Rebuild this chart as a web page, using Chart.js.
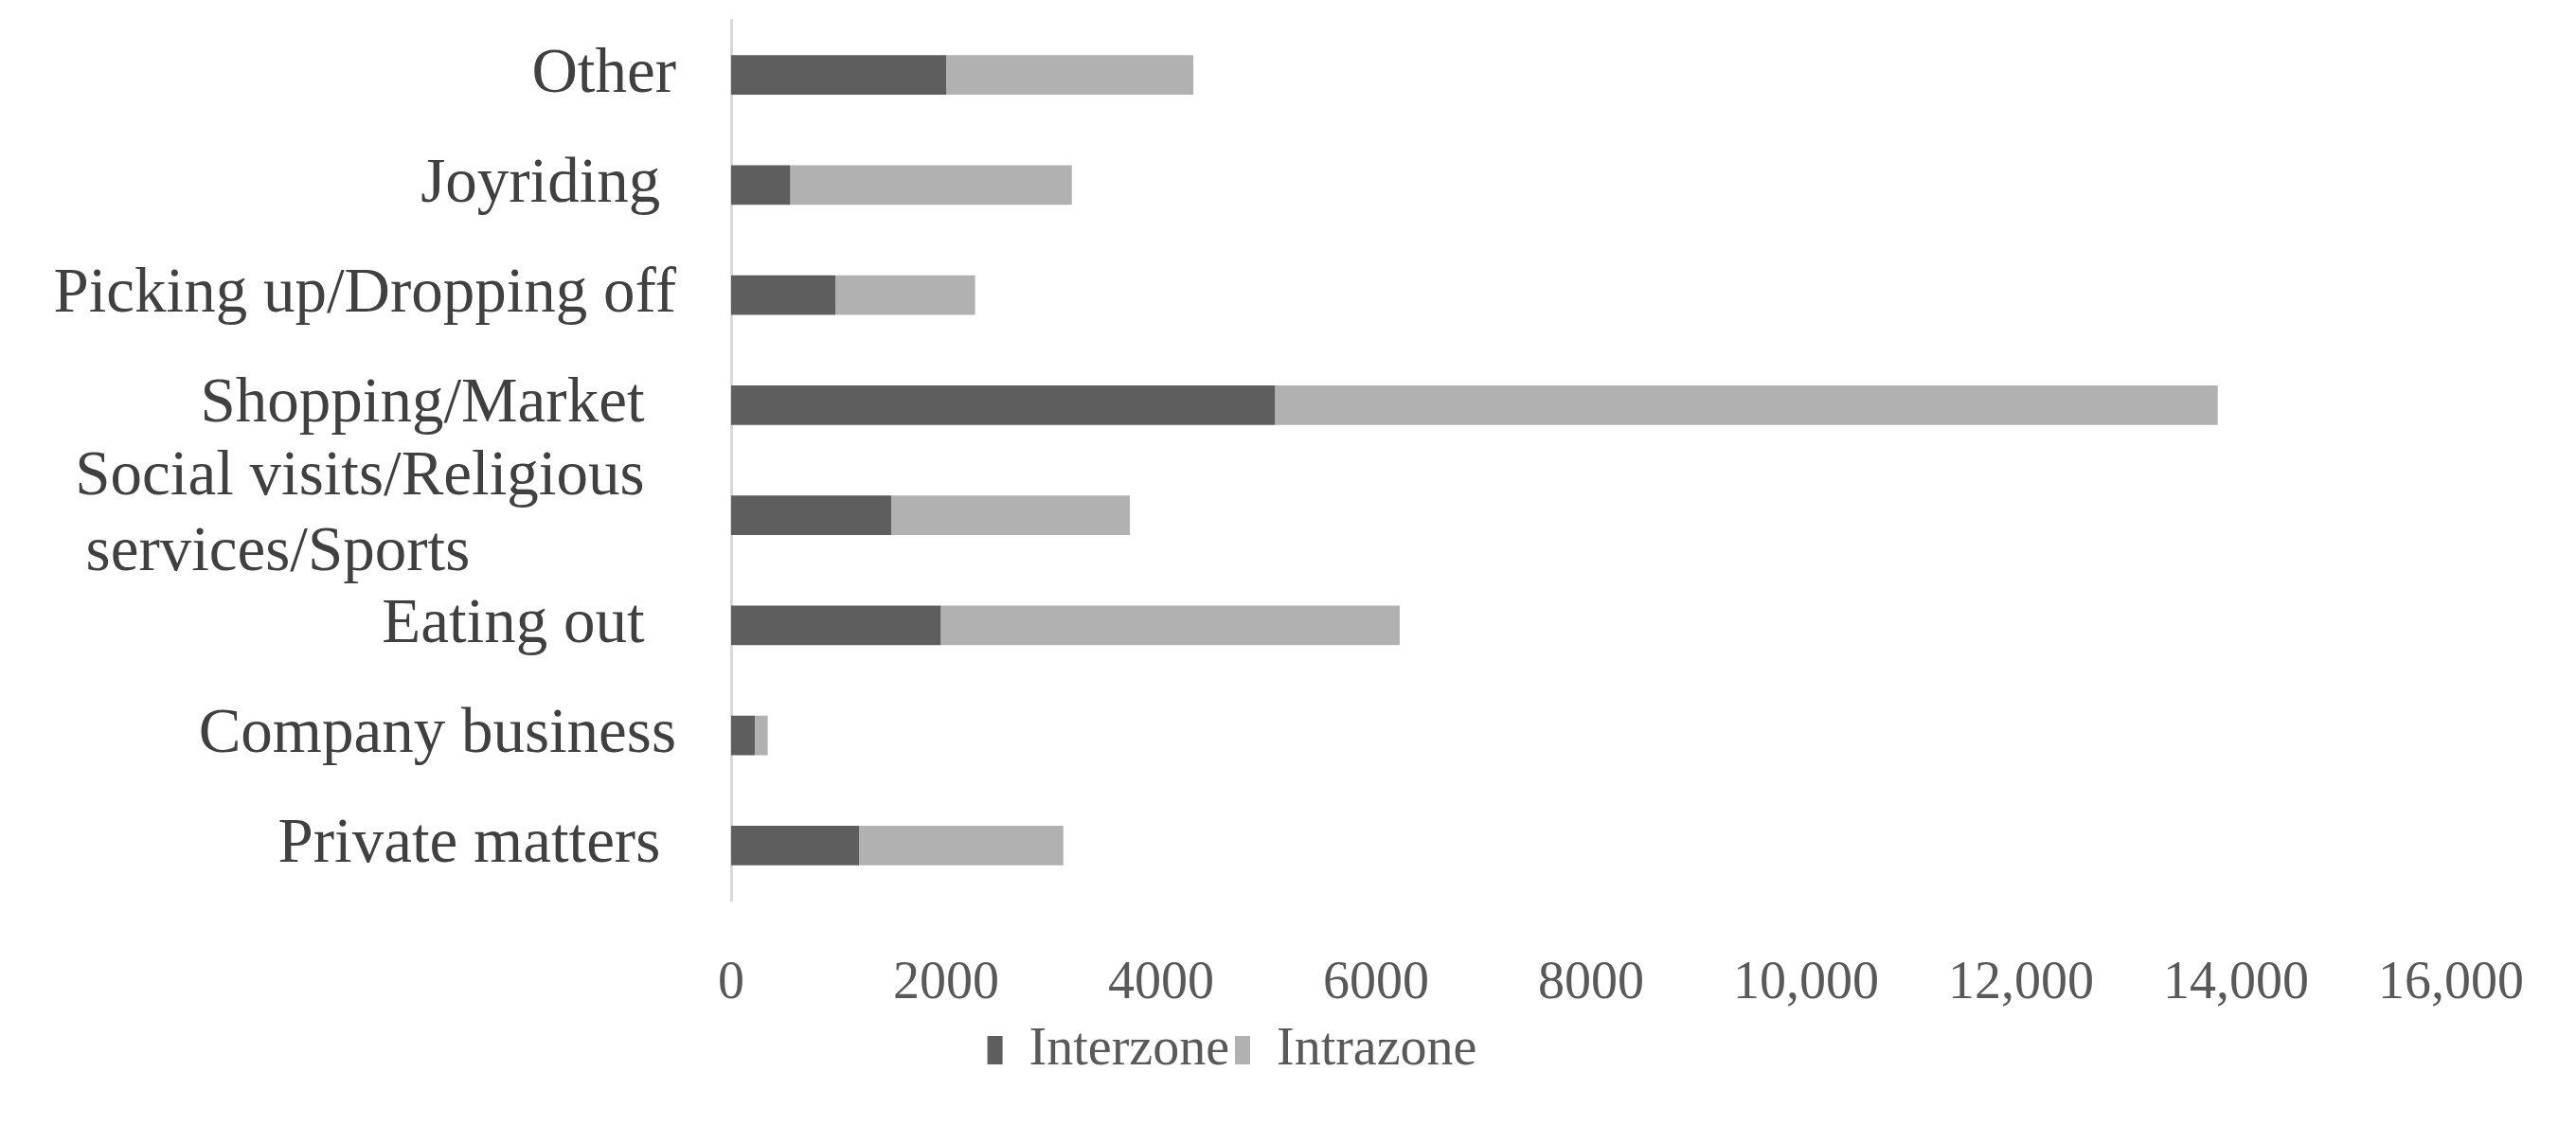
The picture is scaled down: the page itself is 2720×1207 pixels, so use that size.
<!DOCTYPE html>
<html>
<head>
<meta charset="utf-8">
<script src="https://cdn.jsdelivr.net/npm/chart.js@4/dist/chart.umd.min.js"></script>
<style>
  html, body { margin: 0; padding: 0; background: #ffffff; }
  #wrap { width: 2720px; height: 1207px; position: relative; }
</style>
</head>
<body>
<div id="wrap"><canvas id="chart"></canvas></div>
<script>
// categories, top to bottom (trailing spaces keep the ragged right edge of the original)
const categories = [
    'Other',
    'Joyriding ',
    'Picking up/Dropping off',
    'Shopping/Market  ',
    ['Social visits/Religious  ', 'services/Sports             '],
    'Eating out  ',
    'Company business',
    'Private matters '
]

const interzone = [2000, 550, 970, 5060, 1490, 1950, 220, 1190]
const intrazone = [2300, 2620, 1300, 8770, 2220, 4270, 120, 1900]

const xTickLabels = ['0', '2000', '4000', '6000', '8000', '10,000', '12,000', '14,000', '16,000']

const serif = "'Liberation Serif', 'Times New Roman', serif"

const ctx = document.getElementById('chart').getContext('2d')

new Chart(ctx, {
    type: 'bar',
    data: {
        labels: categories,
        datasets: [
            {
                label: 'Interzone',
                data: interzone,
                backgroundColor: '#5e5e5e',
                barPercentage: 0.36,
                categoryPercentage: 1
            },
            {
                label: 'Intrazone',
                data: intrazone,
                backgroundColor: '#b1b1b1',
                barPercentage: 0.36,
                categoryPercentage: 1
            }
        ]
    },
    options: {
        indexAxis: 'y',
        responsive: true,
        maintainAspectRatio: false,
        animation: false,
        layout: {
            padding: { top: 21, right: 118, bottom: 60, left: 0 }
        },
        plugins: {
            legend: {
                position: 'bottom',
                labels: {
                    color: '#595959',
                    font: { family: serif, size: 56 },
                    boxWidth: 16,
                    boxHeight: 30,
                    padding: 6
                }
            },
            tooltip: { enabled: false }
        },
        scales: {
            x: {
                stacked: true,
                min: 0,
                max: 16000,
                grid: { display: false, drawTicks: false },
                border: { display: false },
                afterFit: function(scale) {
                    // drop the extra padding below the tick labels
                    scale.height = 124
                },
                ticks: {
                    stepSize: 2000,
                    padding: 55,
                    color: '#595959',
                    font: { family: serif, size: 56 },
                    maxRotation: 0,
                    autoSkip: false,
                    callback: function(value, index) {
                        return xTickLabels[index]
                    }
                }
            },
            y: {
                stacked: true,
                grid: { display: false, drawTicks: false },
                border: { display: true, color: '#d9d9d9', width: 3 },
                afterFit: function(scale) {
                    scale.width = 772
                    // labels sit at category centres, no overhang needed
                    scale.paddingTop = 0
                    scale.paddingBottom = 0
                },
                ticks: {
                    padding: 58,
                    autoSkip: false,
                    color: '#404040',
                    font: { family: serif, size: 67, lineHeight: 1.2 }
                }
            }
        }
    }
})
</script>
</body>
</html>
